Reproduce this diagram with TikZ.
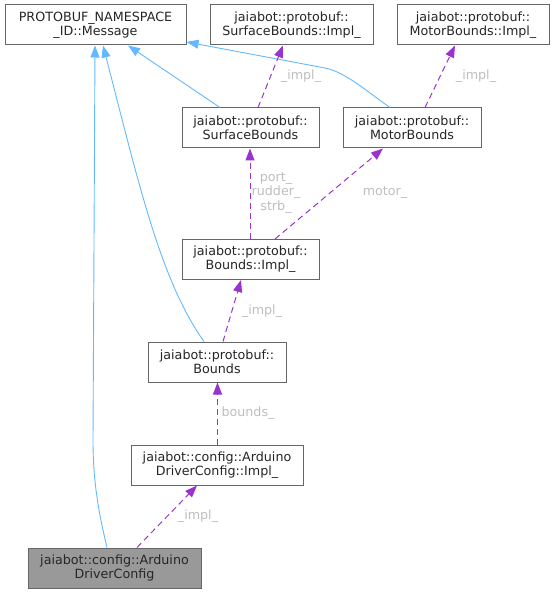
\documentclass[tikz,border=0pt]{standalone}
\usepackage{fontspec}
\setmainfont{DejaVu Sans}
\usetikzlibrary{arrows.meta}
\definecolor{boxgray}{HTML}{666666}
\definecolor{focusfill}{HTML}{999999}
\definecolor{inhblue}{HTML}{63B8FF}
\definecolor{usepurple}{HTML}{9A32CD}
\definecolor{lblgray}{HTML}{BEBEBE}
\begin{document}
\begin{tikzpicture}[x=1pt,y=-1pt,
  every node/.style={font=\fontsize{12.7}{14.3}\selectfont},
  cls/.style={draw=boxgray,line width=1pt,fill=white,inner sep=0pt,minimum height=40pt,align=center,text=black!85},
  focus/.style={cls,fill=focusfill},
  inh/.style={draw=inhblue,line width=0.9pt,-{Triangle[length=12pt,width=9pt,fill=inhblue]}},
  use/.style={draw=usepurple,line width=1pt,dash pattern=on 6pt off 4pt,-{Triangle[length=12pt,width=9pt,fill=usepurple]}},
  lbl/.style={text=lblgray,inner sep=0pt,align=center}]
\useasboundingbox (0,0) rectangle (555,593);
\node[cls,minimum width=181pt] (msg) at (95.5,25) {PROTOBUF\_NAMESPACE\\\_ID::Message};
\node[cls,minimum width=163pt] (sbimpl) at (291.5,25) {jaiabot::protobuf::\\SurfaceBounds::Impl\_};
\node[cls,minimum width=152pt] (mbimpl) at (473,25) {jaiabot::protobuf::\\MotorBounds::Impl\_};
\node[cls,minimum width=137pt] (sb) at (250.5,128) {jaiabot::protobuf::\\SurfaceBounds};
\node[cls,minimum width=138pt] (mb) at (412,128) {jaiabot::protobuf::\\MotorBounds};
\node[cls,minimum width=137pt] (bimpl) at (250.5,259.5) {jaiabot::protobuf::\\Bounds::Impl\_};
\node[cls,minimum width=138pt] (bounds) at (217,362) {jaiabot::protobuf::\\Bounds};
\node[cls,minimum width=172pt] (adcimpl) at (217,465) {jaiabot::config::Arduino\\DriverConfig::Impl\_};
\node[focus,minimum width=173pt] (adc) at (114.5,568) {jaiabot::config::Arduino\\DriverConfig};
% inheritance
\draw[inh] ([xshift=-7.5]adc.north) .. controls (98,510) and (93,480) .. (93,440) -- ([xshift=-0.5]msg.south);
\draw[inh] ([xshift=-13]bounds.north) .. controls (160,280) and (138,180) .. ([xshift=7.5]msg.south);
\draw[inh] ([xshift=-30.5]sb.north) -- ([xshift=32.5]msg.south);
\draw[inh] ([xshift=-22]mb.north) .. controls (365,90) and (345,72) .. (325,68) -- ([yshift=-17]msg.east);
% usage
\draw[use] ([xshift=7.5]sb.north) -- ([xshift=-8.5]sbimpl.south);
\node[lbl] (l1) at (301,76) {\_impl\_};
\draw[use] ([xshift=13]mb.north) -- ([xshift=-18]mbimpl.south);
\node[lbl] (l2) at (476,76) {\_impl\_};
\draw[use] ([xshift=-0.5]bimpl.north) -- ([xshift=-0.5]sb.south);
\node[lbl] (l3) at (276,193) {port\_\\rudder\_\\strb\_};
\draw[use] ([xshift=24.5]bimpl.north) -- ([xshift=-29]mb.south);
\node[lbl] (l4) at (385,193) {motor\_};
\draw[use] ([xshift=6]bounds.north) -- ([xshift=-9.5]bimpl.south);
\node[lbl] (l5) at (262,311) {\_impl\_};
\draw[use] ([xshift=0.5]adcimpl.north) -- ([xshift=0.5]bounds.south);
\node[lbl] (l6) at (248,413) {bounds\_};
\draw[use] ([xshift=22.5]adc.north) -- ([xshift=-20]adcimpl.south);
\node[lbl] (l7) at (198,516) {\_impl\_};
\end{tikzpicture}
\end{document}
